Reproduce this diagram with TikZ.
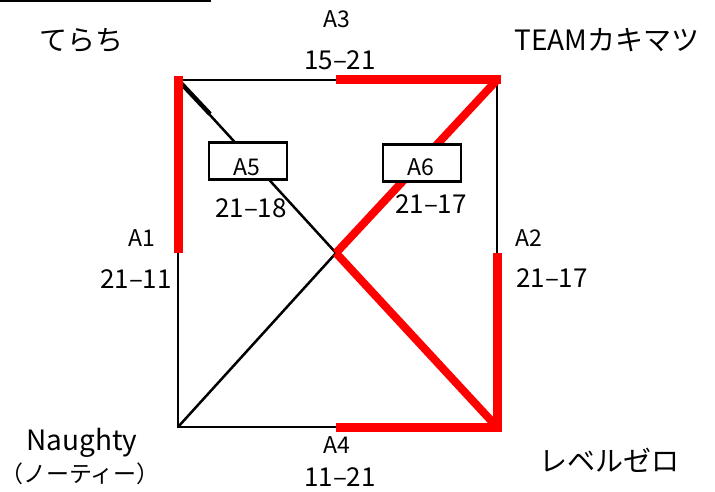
\documentclass[tikz,border=0pt]{standalone}
\usepackage{fontspec}
\setmainfont{Noto Sans CJK JP}
\begin{document}
\begin{tikzpicture}[x=1pt,y=-1pt,
  blk/.style={draw=black,line width=2.5pt},
  redl/.style={draw=red,line width=9pt},
  redd/.style={draw=red,line width=8pt},
  box/.style={draw=black,line width=2.5pt,fill=white,minimum width=78pt,minimum height=37pt,inner sep=0pt},
  team/.style={font=\fontsize{28}{30}\selectfont,inner sep=0pt},
  alab/.style={font=\fontsize{23}{26}\selectfont,inner sep=0pt},
  score/.style={font=\fontsize{26}{28}\selectfont,inner sep=0pt}]
\useasboundingbox (0,0) rectangle (715,492);
% corners and midpoints
\coordinate (TL) at (178,80);
\coordinate (TR) at (497,80);
\coordinate (BL) at (178,427);
\coordinate (BR) at (497,427);
\coordinate (C) at (336,253);
\coordinate (T) at (336,80);
\coordinate (B) at (336,427);
\coordinate (L) at (178,253);
\coordinate (R) at (497,253);
\coordinate (Lstart) at (178,76);
\coordinate (TRend) at (501,80);
\coordinate (TLd) at (210,114);
\coordinate (hl0) at (0,1);
\coordinate (hl1) at (211,1);
% top-left rule
\draw[line width=2pt] (hl0) -- (hl1);
% black lines
\draw[blk] (TL) -- (T);
\draw[blk] (L) -- (BL) -- (B);
\draw[blk] (TR) -- (R);
\draw[blk] (TL) -- (C);
\draw[black,line width=4.5pt] (TL) -- (TLd);
\draw[blk] (BL) -- (C);
% red lines
\draw[redl] (Lstart) -- (L);
\draw[redl] (T) -- (TRend);
\draw[redl,line join=miter] (B) -- (BR) -- (R);
\draw[redd] (C) -- (TR);
\draw[redd] (C) -- (BR);
% boxes
\node[box] (a5box) at (248,161) {};
\node[box] (a6box) at (422,163) {};
% labels
\node[team] (terachi) at (81,40) {てらち};
\node[team] (kakimatsu) at (607,40) {TEAMカキマツ};
\node[team] (naughty) at (82,443) {Naughty};
\node[team,font=\fontsize{23}{25}\selectfont] (naughtyk) at (80,474) {（ノーティー）};
\node[team] (level) at (609,460) {レベルゼロ};
\node[alab] (a3) at (337,19) {A3};
\node[score] (s3) at (340,60) {15‒21};
\node[alab] (a1) at (142,238) {A1};
\node[score] (s1) at (136,279) {21‒11};
\node[alab] (a2) at (529,238) {A2};
\node[score] (s2) at (552,278) {21‒17};
\node[alab] (a4) at (337,445) {A4};
\node[score] (s4) at (340,477) {11‒21};
\node[alab] (a5) at (247,167) {A5};
\node[score] (s5) at (251,208) {21‒18};
\node[alab] (a6) at (421,167) {A6};
\node[score] (s6) at (431,204) {21‒17};
\end{tikzpicture}
\end{document}
